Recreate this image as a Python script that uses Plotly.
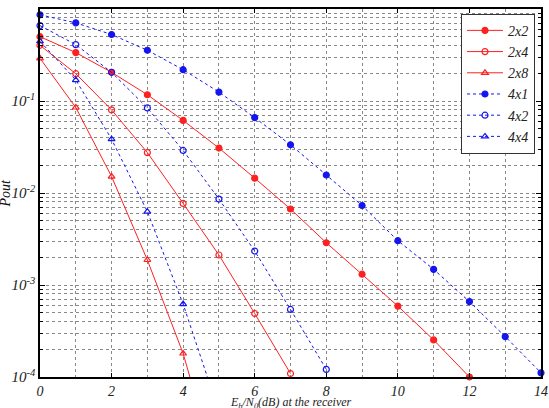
import plotly.graph_objects as go

snr = list(range(0, 15))

p_2x2 = [0.50, 0.336, 0.205, 0.117, 0.0615, 0.0308, 0.0145, 0.0067, 0.00288, 0.00131, 0.00059, 0.000253, 0.0001]
p_2x4 = [0.403, 0.198, 0.080, 0.0275, 0.0077, 0.00212, 0.00049, 0.000109]
p_2x8 = [0.291, 0.085, 0.0151, 0.00187, 0.00018, 0.000008]
p_4x1 = [0.865, 0.707, 0.528, 0.356, 0.219, 0.125, 0.066, 0.0334, 0.0157, 0.0073, 0.00303, 0.00148, 0.00066, 0.000275, 0.000111]
p_4x2 = [0.66, 0.41, 0.205, 0.084, 0.029, 0.0086, 0.00234, 0.000542, 0.000121]
p_4x4 = [0.446, 0.169, 0.0385, 0.00627, 0.00062, 0.000042]

x_ticks = [0, 2, 4, 6, 8, 10, 12, 14]
x_ticktext = ["<i>0</i>", "<i>2</i>", "<i>4</i>", "<i>6</i>", "<i>8</i>", "<i>10</i>", "<i>12</i>", "<i>14</i>"]
y_tickvals = [1e-4, 1e-3, 1e-2, 1e-1, 1]
y_ticktext = ["<i>10<sup>-4</sup></i>", "<i>10<sup>-3</sup></i>", "<i>10<sup>-2</sup></i>",
              "<i>10<sup>-1</sup></i>", "<i>10<sup>0</sup></i>"]

RED = "#ff2020"
BLUE = "#1515f0"
series = [
    ("2x2", p_2x2, RED, "solid", "circle"),
    ("2x4", p_2x4, RED, "solid", "circle-open"),
    ("2x8", p_2x8, RED, "solid", "triangle-up-open"),
    ("4x1", p_4x1, BLUE, "dot", "circle"),
    ("4x2", p_4x2, BLUE, "dot", "circle-open"),
    ("4x4", p_4x4, BLUE, "dot", "triangle-up-open"),
]

fig = go.Figure()
for name, vals, col, dash, sym in series:
    fig.add_trace(go.Scatter(
        x=snr[:len(vals)], y=vals, name="<i>" + name + "</i>", mode="lines+markers",
        line=dict(color=col, width=1, dash=dash),
        marker=dict(symbol=sym, size=6, color=col, line=dict(color=col, width=1.2)),
        cliponaxis=False,
    ))

serif = "Liberation Serif"
fig.update_layout(
    width=549, height=408,
    margin=dict(l=40, r=8, t=9, b=31),
    paper_bgcolor="white", plot_bgcolor="white",
    showlegend=True,
    legend=dict(
        x=0.988, y=0.987, xanchor="right", yanchor="top",
        bgcolor="white", bordercolor="#333", borderwidth=1,
        font=dict(family=serif, size=14, color="#222"),
        tracegroupgap=0, itemwidth=36,
    ),
    xaxis=dict(
        range=[0, 14], tickvals=x_ticks, ticktext=x_ticktext, automargin=False,
        ticks="inside", ticklen=4, tickcolor="black",
        showline=True, linecolor="black", linewidth=1.5, mirror="ticks",
        showgrid=True, gridcolor="#888", griddash="dot", gridwidth=1,
        minor=dict(dtick=1, showgrid=True, gridcolor="#888", griddash="dot", ticks=""),
        tickfont=dict(family=serif, size=14, color="#222"),
        zeroline=False,
    ),
    yaxis=dict(
        type="log", range=[-4, 0], automargin=False,
        tickvals=y_tickvals, ticktext=y_ticktext,
        ticks="inside", ticklen=5, tickcolor="black",
        showline=True, linecolor="black", linewidth=1.5, mirror="ticks",
        showgrid=True, gridcolor="#888", griddash="dot", gridwidth=1,
        minor=dict(dtick="D1", showgrid=True, gridcolor="#888", griddash="dot",
                   ticks="inside", ticklen=3, tickcolor="black"),
        tickfont=dict(family=serif, size=15, color="#222"),
        zeroline=False,
    ),
    annotations=[
        dict(text="<i>E<sub>b</sub>/N<sub>0</sub>(dB) at the receiver</i>",
             xref="paper", yref="paper", x=0.5, y=0, xanchor="center", yanchor="top",
             yshift=-16, showarrow=False,
             font=dict(family=serif, size=12, color="#222")),
        dict(text="<i>Pout</i>", textangle=-90,
             xref="paper", yref="paper", x=0, y=0.5, xanchor="right", yanchor="middle",
             xshift=-26, showarrow=False,
             font=dict(family=serif, size=14, color="#111")),
    ],
)

fig.write_html("out.html")
